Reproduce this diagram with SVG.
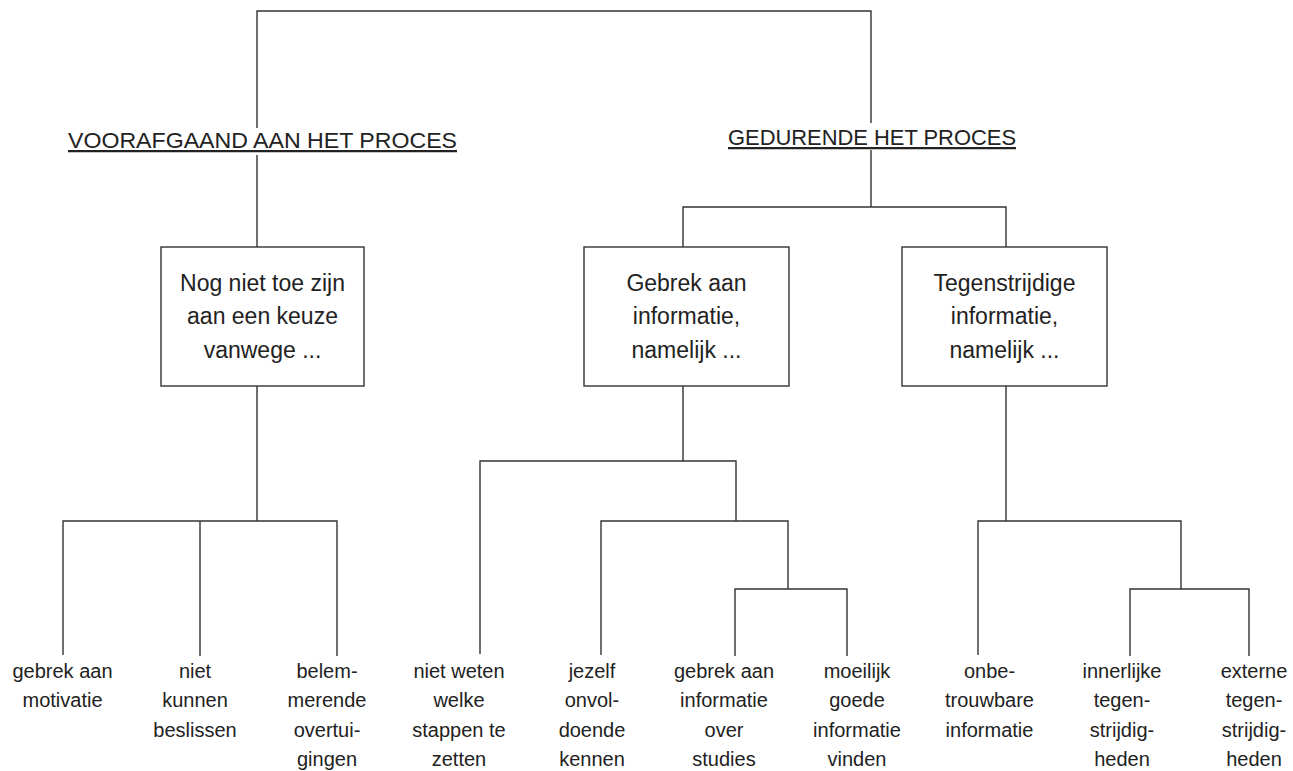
<svg xmlns="http://www.w3.org/2000/svg" width="1293" height="771" viewBox="0 0 1293 771">
<style>
.ln{stroke:#333;stroke-width:1.4;fill:none}
.box{stroke:#333;stroke-width:1.4;fill:#fff}
text{font-family:"Liberation Sans",Arial,sans-serif;fill:#222;text-anchor:middle}
.hd{font-size:22.5px;text-decoration:underline}
.bx{font-size:23px}
.lf{font-size:20px}
</style>
<rect width="1293" height="771" fill="#fff"/>
<g id="connectors">
<path class="ln" d="M257,128 V11 H871 V123"/>
<path class="ln" d="M257,155 V247"/>
<path class="ln" d="M871,150 V207 M683,247 V207 H1006 V247"/>
<path class="ln" d="M257,386 V521 M63,655 V521 H337 V656 M200,521 V656"/>
<path class="ln" d="M683,386 V461 M480,654 V461 H736 V521 M601,655 V521 H788 V589 M735,656 V589 H847 V656"/>
<path class="ln" d="M1006,386 V521 M978,655 V521 H1181 V589 M1130,656 V589 H1249 V656"/>
</g>
<g id="h-voorafgaand"><text class="hd" x="262.5" y="148" textLength="389" lengthAdjust="spacingAndGlyphs">VOORAFGAAND AAN HET PROCES</text></g>
<g id="h-gedurende"><text class="hd" x="872" y="145" textLength="288" lengthAdjust="spacingAndGlyphs">GEDURENDE HET PROCES</text></g>
<g id="n-keuze">
<rect class="box" x="161" y="247" width="203" height="139"/>
<text class="bx" x="262.5"><tspan x="262.5" y="291">Nog niet toe zijn</tspan><tspan x="262.5" y="324">aan een keuze</tspan><tspan x="262.5" y="358">vanwege ...</tspan></text>
</g>
<g id="n-gebrek">
<rect class="box" x="584" y="247" width="205" height="139"/>
<text class="bx" x="686.5"><tspan x="686.5" y="291">Gebrek aan</tspan><tspan x="686.5" y="324">informatie,</tspan><tspan x="686.5" y="358">namelijk ...</tspan></text>
</g>
<g id="n-tegen">
<rect class="box" x="902" y="247" width="205" height="139"/>
<text class="bx" x="1004.5"><tspan x="1004.5" y="291">Tegenstrijdige</tspan><tspan x="1004.5" y="324">informatie,</tspan><tspan x="1004.5" y="358">namelijk ...</tspan></text>
</g>
<g id="l1"><text class="lf"><tspan x="62.5" y="678">gebrek aan</tspan><tspan x="62.5" y="707">motivatie</tspan></text></g>
<g id="l2"><text class="lf"><tspan x="195" y="678">niet</tspan><tspan x="195" y="707">kunnen</tspan><tspan x="195" y="737">beslissen</tspan></text></g>
<g id="l3"><text class="lf"><tspan x="327" y="678">belem-</tspan><tspan x="327" y="707">merende</tspan><tspan x="327" y="737">overtui-</tspan><tspan x="327" y="766">gingen</tspan></text></g>
<g id="l4"><text class="lf"><tspan x="459" y="678">niet weten</tspan><tspan x="459" y="707">welke</tspan><tspan x="459" y="737">stappen te</tspan><tspan x="459" y="766">zetten</tspan></text></g>
<g id="l5"><text class="lf"><tspan x="592" y="678">jezelf</tspan><tspan x="592" y="707">onvol-</tspan><tspan x="592" y="737">doende</tspan><tspan x="592" y="766">kennen</tspan></text></g>
<g id="l6"><text class="lf"><tspan x="724" y="678">gebrek aan</tspan><tspan x="724" y="707">informatie</tspan><tspan x="724" y="737">over</tspan><tspan x="724" y="766">studies</tspan></text></g>
<g id="l7"><text class="lf"><tspan x="857" y="678">moeilijk</tspan><tspan x="857" y="707">goede</tspan><tspan x="857" y="737">informatie</tspan><tspan x="857" y="766">vinden</tspan></text></g>
<g id="l8"><text class="lf"><tspan x="989.5" y="678">onbe-</tspan><tspan x="989.5" y="707">trouwbare</tspan><tspan x="989.5" y="737">informatie</tspan></text></g>
<g id="l9"><text class="lf"><tspan x="1122" y="678">innerlijke</tspan><tspan x="1122" y="707">tegen-</tspan><tspan x="1122" y="737">strijdig-</tspan><tspan x="1122" y="766">heden</tspan></text></g>
<g id="l10"><text class="lf"><tspan x="1254" y="678">externe</tspan><tspan x="1254" y="707">tegen-</tspan><tspan x="1254" y="737">strijdig-</tspan><tspan x="1254" y="766">heden</tspan></text></g>
</svg>
